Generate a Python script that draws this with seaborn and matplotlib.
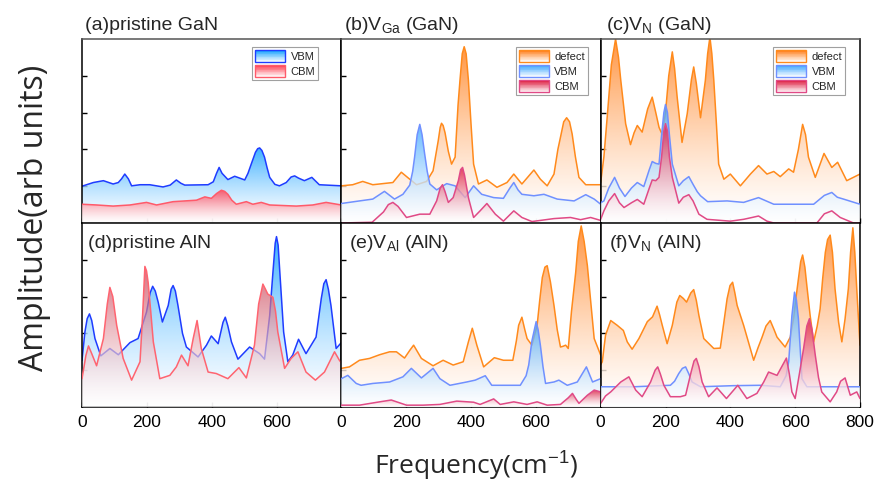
import numpy as np
import pandas as pd
import matplotlib
matplotlib.use("Agg")
import matplotlib.pyplot as plt
import seaborn as sns
from matplotlib.patches import Polygon, Rectangle, Patch
from matplotlib.legend_handler import HandlerBase
from matplotlib.colors import to_rgb

# ---------------------------------------------------------------- data
# (frequency cm^-1, amplitude) knots for every spectrum
a_vbm = [(0, 1.00), (35, 1.10), (66, 1.15), (96, 1.06), (112, 1.10), (122, 1.20), (132, 1.33), (143, 1.20),
         (153, 1.01), (179, 1.04), (209, 1.04), (250, 0.98), (272, 1.03), (291, 1.17), (305, 1.08), (317, 1.03),
         (389, 1.04), (405, 1.12), (415, 1.35), (423, 1.51), (432, 1.35), (450, 1.18), (471, 1.27), (502, 1.17),
         (512, 1.35), (522, 1.60), (535, 1.92), (542, 2.02), (548, 2.04), (555, 1.97), (563, 1.79), (571, 1.50),
         (579, 1.24), (595, 1.05), (609, 1.01), (630, 1.10), (645, 1.25), (656, 1.28), (668, 1.22), (686, 1.15),
         (709, 1.24), (732, 1.04), (800, 1.01)]
a_cbm = [(0, 0.51), (45, 0.49), (96, 0.46), (148, 0.49), (199, 0.56), (230, 0.49), (281, 0.58), (353, 0.62),
         (379, 0.71), (399, 0.67), (415, 0.80), (430, 0.89), (440, 0.86), (450, 0.78), (462, 0.62), (476, 0.51),
         (507, 0.58), (527, 0.51), (553, 0.56), (579, 0.49), (661, 0.46), (712, 0.49), (753, 0.56), (800, 0.49)]

b_def = [(0, 1.01), (35, 1.04), (66, 1.13), (97, 1.04), (128, 1.07), (159, 1.10), (185, 1.38), (211, 1.19),
         (232, 1.04), (263, 1.13), (283, 1.42), (299, 2.24), (305, 2.60), (309, 2.71), (314, 2.65), (320, 2.45),
         (330, 1.95), (340, 1.60), (351, 1.79), (360, 3.20), (366, 3.88), (373, 4.60), (379, 4.79), (385, 4.60),
         (392, 3.88), (400, 2.70), (408, 1.60), (423, 1.06), (449, 1.17), (480, 0.97), (511, 1.10), (532, 1.33),
         (557, 1.06), (594, 1.44), (614, 1.19), (635, 1.01), (656, 1.33), (668, 2.00), (676, 2.33), (686, 2.75),
         (695, 2.86), (704, 2.75), (712, 2.42), (722, 1.80), (733, 1.24), (754, 1.04), (800, 1.04)]
b_vbm = [(0, 0.53), (56, 0.60), (97, 0.65), (133, 0.86), (164, 0.65), (190, 0.78), (211, 1.03), (220, 1.40),
         (226, 1.79), (234, 2.40), (242, 2.68), (249, 2.40), (257, 1.88), (265, 1.40), (273, 1.06), (294, 0.90),
         (325, 1.07), (351, 1.01), (382, 0.69), (408, 1.01), (433, 0.78), (470, 0.69), (500, 0.67), (520, 0.95),
         (532, 1.10), (545, 0.90), (557, 0.78), (594, 0.74), (625, 0.78), (666, 0.65), (718, 0.60), (754, 0.77),
         (780, 0.65), (800, 0.51)]
b_cbm = [(0, 0.00), (95, 0.02), (130, 0.30), (145, 0.50), (159, 0.56), (175, 0.45), (201, 0.15), (242, 0.24),
         (273, 0.24), (294, 0.60), (305, 0.95), (312, 1.04), (320, 0.85), (330, 0.56), (345, 0.69), (361, 1.15),
         (368, 1.45), (374, 1.51), (380, 1.30), (392, 0.69), (408, 0.15), (428, 0.33), (449, 0.53), (475, 0.24),
         (500, 0.05), (532, 0.33), (557, 0.15), (588, 0.04), (614, 0.07), (656, 0.12), (707, 0.15), (738, 0.09),
         (769, 0.15), (800, 0.07)]

c_def = [(0, 1.10), (10, 1.80), (21, 2.97), (33, 4.30), (46, 5.00), (55, 4.50), (62, 3.88), (77, 2.70),
         (92, 2.13), (103, 2.45), (113, 2.65), (128, 2.47), (145, 3.10), (159, 3.42), (170, 3.00), (180, 2.60),
         (190, 2.40), (200, 3.00), (210, 4.00), (221, 4.65), (228, 4.20), (236, 3.42), (251, 2.19), (267, 2.97),
         (280, 3.90), (287, 4.24), (295, 3.80), (308, 2.86), (323, 3.88), (330, 4.60), (337, 5.05), (343, 4.60),
         (349, 3.88), (357, 2.70), (364, 1.60), (380, 1.19), (400, 1.33), (431, 1.01), (462, 1.33), (487, 1.56),
         (513, 1.33), (534, 1.40), (554, 1.26), (580, 1.47), (595, 1.38), (610, 2.00), (623, 2.68), (632, 2.40),
         (641, 1.79), (662, 1.24), (689, 1.89), (713, 1.51), (731, 1.65), (759, 1.15), (800, 1.33)]
c_vbm = [(0, 0.55), (10, 0.60), (25, 0.95), (43, 1.24), (58, 0.95), (75, 0.72), (95, 0.95), (113, 1.10),
         (133, 0.99), (150, 1.45), (159, 1.67), (170, 1.62), (180, 1.60), (188, 2.40), (195, 3.00), (200, 3.22),
         (206, 3.00), (212, 2.40), (221, 1.60), (241, 1.01), (255, 1.15), (272, 1.26), (285, 1.05), (298, 0.85),
         (308, 0.74), (330, 0.58), (390, 0.60), (441, 0.56), (487, 0.69), (534, 0.51), (657, 0.51), (690, 0.75),
         (713, 0.83), (730, 0.70), (749, 0.65), (800, 0.51)]
c_cbm = [(0, 0.10), (10, 0.33), (25, 0.60), (43, 0.80), (58, 0.55), (72, 0.42), (95, 0.55), (113, 0.64),
         (133, 0.51), (150, 0.95), (159, 1.17), (170, 1.15), (180, 1.24), (188, 1.80), (195, 2.50), (200, 2.70),
         (206, 2.50), (212, 1.80), (221, 1.24), (241, 0.54), (255, 0.70), (272, 0.77), (285, 0.60), (303, 0.24),
         (328, 0.10), (400, 0.05), (441, 0.10), (467, 0.15), (487, 0.19), (513, 0.05), (534, 0.00), (667, 0.00),
         (690, 0.25), (713, 0.33), (739, 0.15), (780, 0.00), (800, 0.00)]

d_vbm = [(0, 1.27), (9, 2.04), (16, 2.40), (23, 2.53), (30, 2.35), (40, 1.86), (58, 1.39), (86, 1.59),
         (112, 1.42), (148, 1.75), (173, 1.86), (199, 2.58), (210, 3.10), (218, 3.28), (226, 3.15), (235, 2.85),
         (248, 2.31), (266, 2.76), (275, 3.20), (281, 3.30), (288, 3.15), (296, 2.76), (310, 2.00), (322, 1.63),
         (358, 1.36), (384, 1.68), (399, 1.93), (420, 1.72), (435, 2.30), (442, 2.44), (450, 2.20), (461, 1.77),
         (481, 1.30), (517, 1.63), (548, 1.45), (563, 1.30), (579, 2.49), (589, 3.66), (596, 4.45), (600, 4.63),
         (605, 4.40), (609, 3.84), (622, 2.04), (635, 1.23), (650, 1.41), (668, 1.84), (691, 1.45), (722, 1.90),
         (738, 2.94), (746, 3.35), (753, 3.46), (760, 3.20), (768, 2.76), (784, 1.59), (800, 1.75)]
d_cbm = [(0, 0.77), (12, 1.40), (20, 1.66), (30, 1.45), (45, 1.12), (66, 1.86), (78, 2.80), (86, 3.25),
         (95, 3.00), (107, 2.22), (127, 1.32), (153, 0.73), (179, 1.23), (187, 2.50), (194, 3.82), (199, 3.70),
         (204, 3.39), (212, 2.60), (220, 1.77), (240, 0.77), (271, 0.86), (291, 1.09), (307, 1.41), (327, 1.12),
         (343, 1.86), (355, 2.35), (368, 1.59), (389, 0.95), (414, 0.91), (450, 0.77), (484, 1.07), (507, 0.79),
         (532, 1.68), (545, 2.80), (558, 3.34), (566, 3.20), (573, 3.07), (589, 2.98), (597, 2.60), (604, 2.04),
         (625, 1.05), (645, 1.32), (666, 1.50), (691, 0.95), (720, 0.73), (748, 0.95), (779, 1.50), (794, 1.27),
         (800, 1.20)]

e_def = [(0, 1.05), (25, 1.09), (56, 1.27), (87, 1.32), (118, 1.42), (149, 1.50), (170, 1.50), (195, 1.33),
         (212, 1.55), (223, 1.68), (235, 1.50), (247, 1.32), (283, 1.12), (314, 1.27), (345, 1.14), (376, 1.23),
         (392, 1.77), (404, 2.14), (418, 1.68), (439, 1.09), (472, 1.34), (500, 1.27), (529, 1.27), (540, 1.80),
         (547, 2.22), (557, 2.44), (566, 2.10), (573, 1.86), (588, 1.68), (604, 2.22), (612, 2.90), (620, 3.52),
         (628, 3.80), (635, 3.84), (645, 3.40), (656, 2.76), (666, 2.10), (676, 1.63), (684, 1.65), (692, 1.68),
         (700, 1.59), (710, 2.60), (723, 3.66), (731, 4.50), (740, 4.92), (749, 4.50), (759, 3.84), (770, 2.80),
         (780, 1.86), (800, 1.41)]
e_vbm = [(0, 0.77), (20, 0.86), (46, 0.64), (61, 0.59), (97, 0.64), (149, 0.68), (190, 0.82), (216, 1.05),
         (247, 0.79), (283, 1.05), (304, 0.77), (335, 0.59), (387, 0.68), (413, 0.73), (444, 0.85), (464, 0.59),
         (511, 0.59), (552, 0.59), (570, 0.85), (578, 1.14), (588, 1.80), (594, 2.04), (601, 2.32), (607, 2.10),
         (614, 1.68), (622, 1.10), (630, 0.64), (656, 0.68), (671, 0.73), (697, 0.59), (728, 0.68), (756, 1.09),
         (775, 0.68), (800, 0.77)]
e_cbm = [(0, 0.05), (56, 0.05), (118, 0.14), (154, 0.19), (201, 0.05), (252, 0.05), (304, 0.07), (356, 0.16),
         (408, 0.13), (428, 0.07), (470, 0.22), (490, 0.07), (532, 0.14), (573, 0.07), (604, 0.14), (635, 0.05),
         (676, 0.07), (700, 0.25), (713, 0.37), (725, 0.20), (733, 0.10), (759, 0.32), (780, 0.46), (800, 0.41)]

f_def = [(0, 1.15), (5, 1.23), (15, 1.95), (31, 2.35), (51, 2.22), (70, 2.08), (82, 1.77), (97, 1.57),
         (118, 1.86), (144, 2.32), (160, 2.45), (174, 2.74), (182, 2.50), (190, 2.22), (205, 1.72), (221, 2.22),
         (235, 2.85), (244, 3.03), (255, 2.95), (265, 2.85), (278, 3.10), (287, 3.19), (295, 2.90), (303, 2.49),
         (318, 1.86), (349, 1.59), (369, 1.60), (380, 2.30), (390, 2.94), (399, 3.30), (407, 3.39), (414, 3.10),
         (421, 2.76), (441, 2.22), (472, 1.27), (485, 1.60), (498, 1.90), (510, 2.20), (523, 2.35), (535, 2.10),
         (544, 1.90), (569, 1.63), (585, 1.90), (595, 2.40), (603, 3.00), (610, 3.48), (617, 3.95), (623, 4.13),
         (630, 3.80), (636, 3.30), (646, 2.50), (657, 1.77), (668, 2.20), (677, 2.67), (685, 3.50), (693, 4.20),
         (700, 4.55), (708, 4.67), (715, 4.20), (723, 3.21), (734, 2.30), (744, 1.77), (754, 2.40), (764, 3.21),
         (771, 4.20), (778, 4.87), (784, 4.20), (790, 3.21), (800, 1.68)]
f_vbm = [(0, 0.55), (103, 0.55), (185, 0.58), (215, 0.59), (228, 0.70), (241, 0.91), (252, 1.05), (262, 1.09),
         (272, 0.90), (282, 0.68), (308, 0.55), (410, 0.58), (492, 0.59), (554, 0.55), (572, 0.85), (580, 1.23),
         (590, 2.49), (598, 3.12), (604, 2.90), (610, 2.40), (616, 1.50), (621, 0.77), (636, 0.55), (800, 0.55)]
f_cbm = [(0, 0.10), (15, 0.30), (31, 0.41), (62, 0.68), (87, 0.82), (108, 0.46), (128, 0.28), (154, 0.68),
         (168, 1.00), (176, 1.09), (184, 0.90), (195, 0.59), (215, 0.28), (246, 0.28), (262, 0.32), (279, 0.95),
         (288, 1.25), (295, 1.32), (303, 1.10), (313, 0.68), (333, 0.28), (359, 0.52), (388, 0.23), (423, 0.59),
         (451, 0.23), (482, 0.37), (503, 0.68), (518, 0.95), (544, 0.86), (565, 1.20), (573, 1.33), (582, 0.90),
         (590, 0.41), (600, 0.23), (613, 0.90), (626, 1.59), (636, 2.20), (644, 2.40), (652, 2.10), (662, 1.41),
         (672, 0.80), (682, 0.41), (708, 0.14), (728, 0.41), (740, 0.70), (754, 0.79), (770, 0.32), (790, 0.41),
         (800, 0.23)]

x_ticks = [0, 200, 400, 600, 800]
y_ticks = [1, 2, 3, 4]

# ---------------------------------------------------------------- style
sns.set_theme(style="white")
plt.rcParams["font.family"] = ["Liberation Sans", "DejaVu Sans"]
plt.rcParams["mathtext.fontset"] = "custom"
plt.rcParams["mathtext.rm"] = "Liberation Sans"
plt.rcParams["mathtext.it"] = "Liberation Sans:italic"
plt.rcParams["mathtext.bf"] = "Liberation Sans:bold"

# (line colour, fill colour, fill opacity)
PRISTINE_GAN = {"VBM": ("#1f3cff", "#0a9cff", 0.8), "CBM": ("#ff5a6a", "#ff3b4e", 0.8)}
PRISTINE_ALN = {"VBM": ("#1f3cff", "#0a9cff", 0.8), "CBM": ("#ff6470", "#c42a40", 0.68)}
DEFECT = {"defect": ("#ff8a1c", "#ff7a12", 0.8), "VBM": ("#7090ff", "#38a4ff", 0.78),
          "CBM": ("#e04a86", "#dc1236", 0.78)}

rows = []
for panel, series in [("a", {"VBM": a_vbm, "CBM": a_cbm}),
                      ("b", {"defect": b_def, "VBM": b_vbm, "CBM": b_cbm}),
                      ("c", {"defect": c_def, "VBM": c_vbm, "CBM": c_cbm}),
                      ("d", {"VBM": d_vbm, "CBM": d_cbm}),
                      ("e", {"defect": e_def, "VBM": e_vbm, "CBM": e_cbm}),
                      ("f", {"defect": f_def, "VBM": f_vbm, "CBM": f_cbm})]:
    for name, pts in series.items():
        for fx, amp in pts:
            rows.append({"panel": panel, "series": name, "freq": fx, "amp": amp})
spectra = pd.DataFrame(rows)

PANELS = [
    ("a", r"(a)pristine GaN", PRISTINE_GAN, ["VBM", "CBM"], True, (0.012, 0.012), (0.91, 0.955)),
    ("b", r"(b)V$_{\rm Ga}$ (GaN)", DEFECT, ["defect", "VBM", "CBM"], True, (0.012, 0.0), (0.95, 0.955)),
    ("c", r"(c)V$_{\rm N}$ (GaN)", DEFECT, ["defect", "VBM", "CBM"], True, (0.019, 0.0), (0.942, 0.955)),
    ("d", r"(d)pristine AlN", PRISTINE_ALN, ["VBM", "CBM"], False, (0.023, 0.0), None),
    ("e", r"(e)V$_{\rm Al}$ (AlN)", DEFECT, ["defect", "VBM", "CBM"], False, (0.031, 0.0), None),
    ("f", r"(f)V$_{\rm N}$ (AlN)", DEFECT, ["defect", "VBM", "CBM"], False, (0.031, 0.0), None),
]


def gradient_fill(ax, x, y, color, alpha, z):
    """Area under a curve shaded from white at the baseline to full colour at the curve's peak."""
    x = np.asarray(x, float)
    y = np.asarray(y, float)
    top = y.max()
    rgb = np.array(to_rgb(color))
    ramp = np.linspace(0.0, 1.0, 256)[:, None] ** 1.35
    img = np.ones((256, 1, 4))
    img[:, 0, :3] = 1.0 - ramp * (1.0 - rgb)
    img[:, 0, 3] = alpha
    verts = np.vstack([[x[0], 0.0], np.column_stack([x, y]), [x[-1], 0.0]])
    clip = Polygon(verts, closed=True, facecolor="none", edgecolor="none", transform=ax.transData)
    ax.add_patch(clip)
    im = ax.imshow(img, extent=[x[0], x[-1], 0, top], origin="lower", aspect="auto",
                   interpolation="bilinear", zorder=z)
    im.set_clip_path(clip)


class GradientSwatch(HandlerBase):
    def __init__(self, fill, edge):
        super().__init__()
        self.fill = fill
        self.edge = edge

    def create_artists(self, legend, orig_handle, xdescent, ydescent, width, height, fontsize, trans):
        rgb = np.array(to_rgb(self.fill))
        n = 16
        arts = []
        for i in range(n):
            f = (i + 0.5) / n
            c = 1.0 - f * (1.0 - rgb)
            arts.append(Rectangle((-xdescent, -ydescent + height * i / n), width, height / n * 1.05,
                                  facecolor=c, edgecolor="none", transform=trans))
        arts.append(Rectangle((-xdescent, -ydescent), width, height, facecolor="none",
                              edgecolor=self.edge, linewidth=1.0, transform=trans))
        return arts


W, H = 876, 482
fig = plt.figure(figsize=(W / 100, H / 100), dpi=100)
gs = fig.add_gridspec(2, 3, left=82 / W, right=860 / W, top=1 - 39 / H, bottom=1 - 407 / H,
                      wspace=0, hspace=0)

for idx, (key, title, style, order, top_row, tpos, lpos) in enumerate(PANELS):
    ax = fig.add_subplot(gs[idx // 3, idx % 3])
    sub = spectra[spectra["panel"] == key]
    z = 1
    for name in order:
        s = sub[sub["series"] == name]
        line_c, fill_c, fill_a = style[name]
        gradient_fill(ax, s["freq"], s["amp"], fill_c, fill_a, z)
        sns.lineplot(data=s, x="freq", y="amp", color=line_c, linewidth=1.1, estimator=None,
                     sort=False, ax=ax, zorder=z + 1)
        z += 2

    ax.set_xlim(0, 800)
    ax.set_ylim(0, 5)
    ax.set_xlabel("")
    ax.set_ylabel("")
    ax.set_xticks(x_ticks)
    ax.set_yticks(y_ticks)
    ax.set_yticklabels([])
    if top_row:
        ax.set_xticklabels([])
    elif key == "f":
        ax.set_xticklabels([str(t) for t in x_ticks])
    else:
        ax.set_xticklabels([str(t) for t in x_ticks[:-1]] + [""])
    ax.tick_params(axis="both", direction="in", length=3.5, width=1.0, colors="black",
                   labelsize=12.5, pad=6, bottom=True, left=True, top=False, right=False)
    for sp in ax.spines.values():
        sp.set_color("black")
        sp.set_linewidth(1.1)
        sp.set_visible(True)
    if top_row:
        ax.spines["top"].set_color("#555555")

    if top_row:
        ax.text(tpos[0], 1.048, title, transform=ax.transAxes, ha="left", va="baseline", fontsize=14)
    else:
        ax.text(tpos[0], 0.862, title, transform=ax.transAxes, ha="left", va="baseline", fontsize=14,
                zorder=20)

    if lpos is not None:
        handles, labels, hmap = [], [], {}
        for name in order:
            line_c, fill_c, _ = style[name]
            h = Patch(facecolor=fill_c, edgecolor=line_c)
            handles.append(h)
            labels.append(name)
            hmap[h] = GradientSwatch(fill_c, line_c)
        leg = ax.legend(handles, labels, handler_map=hmap, loc="upper right", bbox_to_anchor=lpos,
                        borderaxespad=0, fontsize=8, frameon=True, fancybox=False, framealpha=1,
                        edgecolor="#a0a0a0", handlelength=2.7, handleheight=1.25, handletextpad=0.5,
                        labelspacing=0.3, borderpad=0.25)
        leg.get_frame().set_linewidth(0.8)
        leg.set_zorder(30)

fig.text(35 / W, 1 - 218 / H, "Amplitude(arb units)", rotation=90, ha="center", va="center",
         fontsize=23, family=["Open Sans", "DejaVu Sans"])
fig.text(476 / W, 1 - 466 / H, r"Frequency(cm$^{-1}$)", ha="center", va="center",
         fontsize=19, family=["Open Sans", "DejaVu Sans"])

fig.savefig("out.png", dpi=100)
